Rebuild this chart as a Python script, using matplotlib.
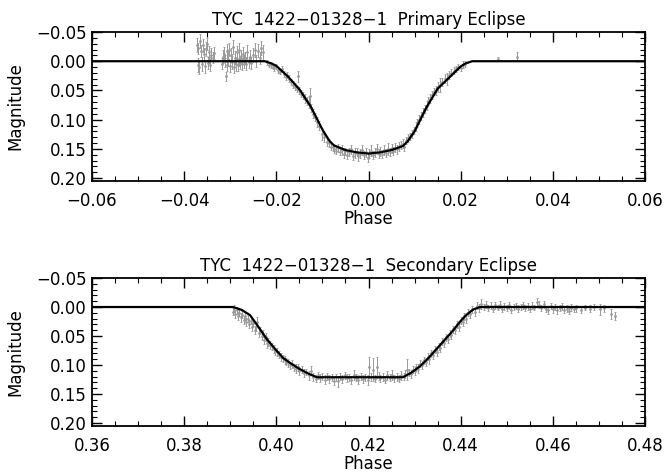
import matplotlib
matplotlib.use("Agg")
import matplotlib.pyplot as plt
from matplotlib.ticker import MultipleLocator, FuncFormatter

# ---- primary eclipse: observed points (phase, magnitude, error) ----
p_phase = [-0.0372, -0.0370, -0.0369, -0.0367, -0.0365, -0.0363, -0.0361, -0.0359, -0.0357, -0.0355,
           -0.0353, -0.0351, -0.0349, -0.0347, -0.0345, -0.0343, -0.0341, -0.0338, -0.0336,
           -0.0318, -0.0316, -0.0313, -0.0311, -0.0310, -0.0308, -0.0306, -0.0304, -0.0302, -0.0300,
           -0.0298, -0.0296, -0.0294, -0.0292, -0.0290, -0.0288, -0.0286, -0.0284, -0.0282, -0.0280,
           -0.0278, -0.0276, -0.0274, -0.0272, -0.0270, -0.0268, -0.0266, -0.0263, -0.0260, -0.0257,
           -0.0254, -0.0251, -0.0247, -0.0244, -0.0240, -0.0236, -0.0233, -0.0230,
           -0.0220, -0.0216, -0.0212, -0.0208, -0.0204, -0.0200, -0.0196, -0.0192, -0.0188, -0.0184,
           -0.0180, -0.0176, -0.0172, -0.0168, -0.0164, -0.0160, -0.0156, -0.0152, -0.0150, -0.0146,
           -0.0142, -0.0138, -0.0134, -0.0130, -0.0128, -0.0124, -0.0120, -0.0116, -0.0112, -0.0108,
           -0.0100, -0.0096, -0.0090, -0.0086, -0.0082,
           -0.0078, -0.0074, -0.0070, -0.0066, -0.0062, -0.0058, -0.0054, -0.0050, -0.0046, -0.0042,
           -0.0038, -0.0034, -0.0030, -0.0026, -0.0022, -0.0018, -0.0014, -0.0010, -0.0006, -0.0002,
           0.0002, 0.0006, 0.0010, 0.0014, 0.0018, 0.0022, 0.0026, 0.0030, 0.0034, 0.0038,
           0.0042, 0.0046, 0.0050, 0.0054, 0.0058, 0.0062, 0.0066, 0.0070, 0.0074, 0.0078,
           0.0082, 0.0086, 0.0090, 0.0094, 0.0098, 0.0102, 0.0106, 0.0110, 0.0114, 0.0118,
           0.0122, 0.0126, 0.0130, 0.0134, 0.0138, 0.0142, 0.0146, 0.0150, 0.0155, 0.0160,
           0.0165, 0.0170, 0.0175, 0.0180, 0.0185, 0.0190, 0.0195, 0.0200, 0.0205, 0.0210,
           0.0280, 0.0322]
p_mag = [-0.028, 0.006, -0.022, 0.010, -0.034, -0.018, 0.004, -0.027, -0.012, 0.009,
         -0.021, -0.030, 0.003, -0.016, -0.008, 0.006, -0.011, -0.006, -0.014,
         0.004, -0.008, -0.012, 0.000, 0.026, -0.018, 0.006, -0.004, -0.020, 0.008,
         -0.010, 0.002, -0.024, 0.010, -0.006, 0.004, -0.015, 0.007, -0.003, -0.019,
         0.003, -0.009, 0.005, -0.013, 0.001, -0.006, 0.004, -0.016, 0.002, -0.008,
         0.003, -0.010, -0.020, 0.000, -0.018, -0.005, -0.022, -0.015,
         0.002, 0.006, 0.006, 0.010, 0.012, 0.009, 0.015, 0.018, 0.014, 0.022,
         0.027, 0.024, 0.030, 0.036, 0.040, 0.044, 0.048, 0.026, 0.050, 0.056,
         0.058, 0.064, 0.068, 0.070, 0.060, 0.080, 0.090, 0.096, 0.104, 0.110,
         0.125, 0.130, 0.138, 0.140, 0.146,
         0.147, 0.150, 0.153, 0.149, 0.155, 0.152, 0.158, 0.154, 0.160, 0.156,
         0.151, 0.162, 0.157, 0.155, 0.163, 0.158, 0.152, 0.161, 0.156, 0.165,
         0.158, 0.153, 0.160, 0.156, 0.150, 0.158, 0.154, 0.159, 0.152, 0.157,
         0.150, 0.155, 0.149, 0.153, 0.148, 0.151, 0.146, 0.144, 0.141, 0.147,
         0.136, 0.132, 0.128, 0.124, 0.118, 0.112, 0.106, 0.100, 0.094, 0.088,
         0.082, 0.076, 0.068, 0.064, 0.058, 0.052, 0.050, 0.044, 0.040, 0.036,
         0.030, 0.030, 0.024, 0.020, 0.016, 0.014, 0.010, 0.012, 0.006, 0.005,
         -0.004, -0.008]
p_err = [0.012, 0.012, 0.010, 0.012, 0.012, 0.010, 0.012, 0.011, 0.010, 0.011,
         0.012, 0.010, 0.011, 0.010, 0.011, 0.010, 0.011, 0.009, 0.010,
         0.010, 0.011, 0.012, 0.010, 0.008, 0.012, 0.011, 0.012, 0.011, 0.010,
         0.012, 0.011, 0.012, 0.010, 0.011, 0.012, 0.011, 0.010, 0.012, 0.013,
         0.010, 0.011, 0.010, 0.012, 0.011, 0.010, 0.011, 0.012, 0.010, 0.011,
         0.010, 0.012, 0.012, 0.010, 0.011, 0.010, 0.012, 0.013,
         0.004, 0.004, 0.005, 0.004, 0.005, 0.004, 0.005, 0.004, 0.005, 0.005,
         0.005, 0.005, 0.006, 0.005, 0.006, 0.006, 0.005, 0.010, 0.006, 0.006,
         0.006, 0.008, 0.007, 0.010, 0.015, 0.007, 0.008, 0.007, 0.008, 0.007,
         0.010, 0.008, 0.007, 0.007, 0.006,
         0.006, 0.007, 0.006, 0.007, 0.006, 0.008, 0.007, 0.006, 0.008, 0.007,
         0.008, 0.007, 0.008, 0.006, 0.008, 0.007, 0.009, 0.007, 0.008, 0.008,
         0.007, 0.009, 0.007, 0.008, 0.009, 0.007, 0.008, 0.007, 0.008, 0.007,
         0.010, 0.007, 0.008, 0.007, 0.008, 0.007, 0.008, 0.007, 0.008, 0.007,
         0.006, 0.007, 0.006, 0.007, 0.006, 0.008, 0.007, 0.008, 0.007, 0.008,
         0.007, 0.008, 0.007, 0.008, 0.007, 0.006, 0.007, 0.008, 0.012, 0.007,
         0.008, 0.010, 0.007, 0.006, 0.006, 0.005, 0.005, 0.005, 0.006, 0.005,
         0.004, 0.008]

# primary eclipse model curve
p_model_phase = [-0.060, -0.0225, -0.0210, -0.0200, -0.0175, -0.0150, -0.0125, -0.0100, -0.0085,
                 -0.0075, -0.0050, -0.0025, 0.0000, 0.0025, 0.0050, 0.0075, 0.0085, 0.0100,
                 0.0125, 0.0150, 0.0175, 0.0200, 0.0210, 0.0225, 0.060]
p_model_mag = [0.000, 0.000, 0.004, 0.008, 0.026, 0.048, 0.078, 0.117, 0.136,
               0.144, 0.152, 0.156, 0.158, 0.156, 0.152, 0.145, 0.137, 0.120,
               0.080, 0.047, 0.028, 0.009, 0.004, 0.000, 0.000]

# ---- secondary eclipse: observed points ----
s_phase = [0.3905, 0.3908, 0.3911, 0.3914, 0.3917, 0.3920, 0.3923, 0.3926, 0.3929, 0.3932,
           0.3935, 0.3938, 0.3941, 0.3944, 0.3947, 0.3950, 0.3953, 0.3956, 0.3959, 0.3962,
           0.3965, 0.3968, 0.3971, 0.3974, 0.3977, 0.3980, 0.3983, 0.3986, 0.3990, 0.3994,
           0.3998, 0.4002, 0.4006, 0.4010, 0.4014, 0.4018, 0.4022, 0.4026, 0.4030, 0.4034,
           0.4038, 0.4042, 0.4046, 0.4050, 0.4055, 0.4060, 0.4065, 0.4070, 0.4075, 0.4080,
           0.4085,
           0.4090, 0.4095, 0.4100, 0.4105, 0.4110, 0.4115, 0.4120, 0.4125, 0.4130, 0.4134,
           0.4138, 0.4143, 0.4148, 0.4153, 0.4158, 0.4163, 0.4168, 0.4173, 0.4178, 0.4183,
           0.4188, 0.4193, 0.4198, 0.4202, 0.4206, 0.4210, 0.4214, 0.4218, 0.4222, 0.4226,
           0.4231, 0.4236, 0.4241, 0.4246, 0.4251, 0.4256, 0.4261, 0.4266, 0.4271,
           0.4276, 0.4280, 0.4284, 0.4288, 0.4292, 0.4296, 0.4300, 0.4304, 0.4308, 0.4312,
           0.4316, 0.4320, 0.4324, 0.4328, 0.4332, 0.4336, 0.4340, 0.4344, 0.4348, 0.4352,
           0.4356, 0.4360, 0.4364, 0.4368, 0.4372, 0.4376, 0.4380, 0.4384, 0.4388, 0.4392,
           0.4396, 0.4400, 0.4404, 0.4408, 0.4412, 0.4416, 0.4420, 0.4425, 0.4430, 0.4435,
           0.4440, 0.4445,
           0.4450, 0.4455, 0.4460, 0.4465, 0.4470, 0.4475, 0.4480, 0.4485, 0.4490, 0.4495,
           0.4500, 0.4505, 0.4510, 0.4515, 0.4520, 0.4525, 0.4530, 0.4535, 0.4540, 0.4545,
           0.4550, 0.4555, 0.4560, 0.4565, 0.4570, 0.4575, 0.4580, 0.4585, 0.4590, 0.4595,
           0.4600, 0.4605, 0.4610, 0.4615, 0.4620, 0.4625, 0.4630, 0.4635, 0.4640, 0.4645,
           0.4650, 0.4660, 0.4670, 0.4680, 0.4690, 0.4702, 0.4712, 0.4727, 0.4735]
s_mag = [0.008, 0.002, 0.012, 0.006, 0.016, 0.010, 0.018, 0.013, 0.022, 0.016,
         0.026, 0.020, 0.030, 0.024, 0.034, 0.028, 0.040, 0.035, 0.026, 0.044,
         0.040, 0.050, 0.046, 0.056, 0.052, 0.062, 0.060, 0.066, 0.068, 0.072,
         0.076, 0.078, 0.082, 0.086, 0.088, 0.092, 0.094, 0.096, 0.100, 0.098,
         0.104, 0.106, 0.104, 0.110, 0.108, 0.114, 0.112, 0.118, 0.110, 0.121,
         0.124,
         0.118, 0.123, 0.120, 0.125, 0.119, 0.124, 0.122, 0.127, 0.121, 0.128,
         0.120, 0.124, 0.118, 0.123, 0.121, 0.126, 0.117, 0.122, 0.125, 0.119,
         0.124, 0.121, 0.126, 0.104, 0.120, 0.108, 0.124, 0.104, 0.119, 0.123,
         0.121, 0.125, 0.118, 0.122, 0.117, 0.123, 0.120, 0.124, 0.118,
         0.119, 0.116, 0.108, 0.113, 0.115, 0.108, 0.110, 0.104, 0.106, 0.098,
         0.100, 0.092, 0.094, 0.086, 0.090, 0.080, 0.083, 0.074, 0.078, 0.068,
         0.070, 0.060, 0.062, 0.052, 0.055, 0.046, 0.048, 0.038, 0.040, 0.030,
         0.034, 0.024, 0.026, 0.016, 0.020, 0.010, 0.012, 0.004, 0.008, -0.002,
         0.002, -0.005,
         0.000, -0.004, 0.002, -0.002, 0.003, -0.003, 0.001, -0.004, 0.004, -0.001,
         0.002, -0.003, 0.005, 0.000, -0.002, 0.003, 0.000, -0.003, 0.002, -0.001,
         0.004, -0.002, 0.001, -0.008, -0.004, 0.002, -0.005, 0.003, 0.006, -0.002,
         0.004, 0.000, 0.006, 0.002, -0.001, 0.005, 0.003, 0.007, 0.001, 0.004,
         0.002, 0.005, 0.001, 0.003, 0.000, 0.004, 0.002, 0.012, 0.015]
s_err = [0.006, 0.006, 0.007, 0.006, 0.007, 0.006, 0.007, 0.006, 0.007, 0.006,
         0.007, 0.006, 0.007, 0.006, 0.007, 0.006, 0.007, 0.006, 0.008, 0.007,
         0.006, 0.007, 0.006, 0.008, 0.007, 0.008, 0.007, 0.007, 0.006, 0.007,
         0.006, 0.007, 0.006, 0.007, 0.006, 0.007, 0.006, 0.007, 0.006, 0.007,
         0.006, 0.007, 0.006, 0.007, 0.006, 0.007, 0.006, 0.007, 0.008, 0.007,
         0.006,
         0.006, 0.007, 0.006, 0.007, 0.006, 0.007, 0.006, 0.007, 0.006, 0.009,
         0.006, 0.007, 0.006, 0.007, 0.006, 0.007, 0.008, 0.006, 0.007, 0.006,
         0.007, 0.006, 0.008, 0.018, 0.007, 0.020, 0.006, 0.018, 0.007, 0.006,
         0.007, 0.006, 0.007, 0.006, 0.008, 0.006, 0.007, 0.006, 0.007,
         0.006, 0.007, 0.018, 0.006, 0.007, 0.006, 0.007, 0.006, 0.007, 0.006,
         0.007, 0.006, 0.007, 0.006, 0.008, 0.006, 0.007, 0.006, 0.007, 0.006,
         0.007, 0.006, 0.007, 0.006, 0.007, 0.006, 0.007, 0.006, 0.007, 0.006,
         0.007, 0.006, 0.007, 0.006, 0.007, 0.006, 0.007, 0.006, 0.007, 0.006,
         0.007, 0.008,
         0.005, 0.006, 0.005, 0.006, 0.005, 0.006, 0.005, 0.006, 0.005, 0.006,
         0.005, 0.006, 0.005, 0.006, 0.005, 0.006, 0.005, 0.006, 0.005, 0.006,
         0.005, 0.006, 0.005, 0.007, 0.006, 0.005, 0.006, 0.005, 0.006, 0.005,
         0.006, 0.005, 0.006, 0.005, 0.006, 0.005, 0.006, 0.005, 0.006, 0.005,
         0.006, 0.006, 0.005, 0.006, 0.005, 0.010, 0.006, 0.008, 0.007]

# secondary eclipse model curve
s_model_phase = [0.3600, 0.3906, 0.3925, 0.3943, 0.3961, 0.3979, 0.3997, 0.4015, 0.4033,
                 0.4051, 0.4070, 0.4088, 0.4275, 0.4293, 0.4312, 0.4330, 0.4348, 0.4366,
                 0.4384, 0.4400, 0.4413, 0.4428, 0.4442, 0.4800]
s_model_mag = [0.000, 0.000, 0.005, 0.014, 0.034, 0.055, 0.072, 0.088, 0.098,
               0.107, 0.115, 0.121, 0.121, 0.113, 0.102, 0.088, 0.072, 0.056,
               0.040, 0.024, 0.013, 0.004, 0.000, 0.000]


def fmt_minus(v, pos):
    s = "%.2f" % v
    if s == "-0.00":
        s = "0.00"
    return s.replace("-", "\u2212")


fig = plt.figure(figsize=(6.65, 4.74), dpi=100)
ax1 = fig.add_axes([0.1383, 0.6181, 0.8317, 0.3144])
ax2 = fig.add_axes([0.1383, 0.1013, 0.8317, 0.3122])

panels = [
    (ax1, p_phase, p_mag, p_err, p_model_phase, p_model_mag,
     "TYC  1422\u221201328\u22121  Primary Eclipse", (-0.06, 0.06)),
    (ax2, s_phase, s_mag, s_err, s_model_phase, s_model_mag,
     "TYC  1422\u221201328\u22121  Secondary Eclipse", (0.36, 0.48)),
]

for ax, ph, mag, err, mph, mmag, title, xlim in panels:
    ax.errorbar(ph, mag, yerr=err, fmt='.', color='#9a9a9a', ecolor='#9a9a9a',
                markersize=2, elinewidth=0.7, capsize=1, capthick=0.6, zorder=2)
    ax.plot(mph, mmag, color='black', linewidth=1.6, zorder=3)
    ax.set_xlim(*xlim)
    ax.set_ylim(0.205, -0.05)
    ax.xaxis.set_major_locator(MultipleLocator(0.02))
    ax.xaxis.set_minor_locator(MultipleLocator(0.005))
    ax.yaxis.set_major_locator(MultipleLocator(0.05))
    ax.yaxis.set_minor_locator(MultipleLocator(0.01))
    ax.xaxis.set_major_formatter(FuncFormatter(fmt_minus))
    ax.yaxis.set_major_formatter(FuncFormatter(fmt_minus))
    ax.tick_params(which='both', direction='in', top=True, right=True, labelsize=12)
    ax.tick_params(which='major', length=7, width=1)
    ax.tick_params(which='minor', length=3.5, width=0.8)
    ax.tick_params(axis='x', pad=8)
    for sp in ax.spines.values():
        sp.set_linewidth(1.3)
    ax.set_title(title, fontsize=12, pad=5)
    ax.set_xlabel("Phase", fontsize=12, labelpad=0)
    ax.set_ylabel("Magnitude", fontsize=12, labelpad=9)

fig.savefig("out.png", dpi=100)
